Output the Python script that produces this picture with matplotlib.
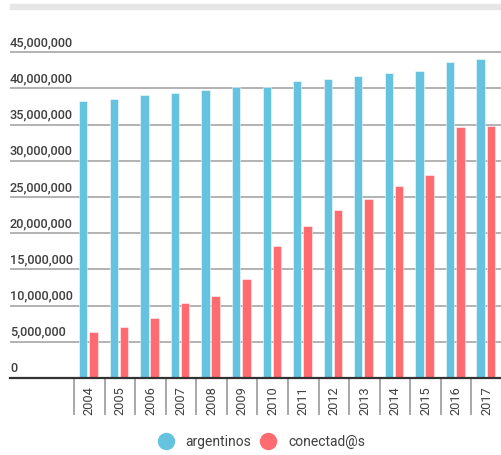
import matplotlib.pyplot as plt
import matplotlib.transforms as mtransforms
from matplotlib.lines import Line2D
from matplotlib.patches import Rectangle
import numpy as np

plt.rcParams['font.family'] = ['Roboto', 'DejaVu Sans']

years = ['2004', '2005', '2006', '2007', '2008', '2009', '2010',
         '2011', '2012', '2013', '2014', '2015', '2016', '2017']
argentinos = [38.3, 38.6, 39.05, 39.4, 39.8, 40.15, 40.15,
              40.98, 41.3, 41.7, 42.1, 42.45, 43.6, 44.1]
conectados = [6.35, 7.0, 8.33, 10.36, 11.3, 13.7, 18.2,
              20.95, 23.16, 24.7, 26.5, 28.1, 34.7, 34.85]
y_ticks = [0, 5, 10, 15, 20, 25, 30, 35, 40, 45]

blue = '#66c3e0'
red = '#ff6b6f'
text_color = '#404040'

fig = plt.figure(figsize=(5.02, 4.55), dpi=100)
ax = fig.add_axes([10 / 502, 0.1692, 492 / 502, 0.7240])

x = np.arange(len(years))
millions = 1e6
ax.bar(x - 0.20, np.array(argentinos) * millions, width=0.27, color=blue,
       edgecolor=(1, 1, 1, 0.5), linewidth=0.7, zorder=3)
ax.bar(x + 0.135, np.array(conectados) * millions, width=0.28, color=red,
       edgecolor=(1, 1, 1, 0.5), linewidth=0.7, zorder=3)

# slot edges sit at 75px + 31px per year
ax.set_xlim(-0.5 - 65 / 31, -0.5 + 427 / 31)
ax.set_ylim(0, 45.5 * millions)

ax.set_yticks([v * millions for v in y_ticks])
ax.yaxis.grid(True, color='#adadad', linewidth=1.3, zorder=0)
ax.tick_params(axis='y', length=0, labelleft=False)

# y labels sit just above their gridlines
trans = mtransforms.offset_copy(
    mtransforms.blended_transform_factory(ax.transAxes, ax.transData),
    fig=fig, x=0, y=3, units='dots')
for v in y_ticks:
    ax.text(0, v * millions, f'{v * 1000000:,}', transform=trans,
            ha='left', va='bottom', fontsize=9.2, color=text_color,
            fontweight='medium')

ax.set_xticks(x)
ax.set_xticklabels(years, rotation=90, fontsize=9.2, color=text_color)
ax.tick_params(axis='x', which='major', length=0, pad=6)
ax.set_xticks(np.arange(len(years) + 1) - 0.5, minor=True)
ax.tick_params(axis='x', which='minor', length=26.5, width=1.2, color='#999999')

for side in ['top', 'right', 'left']:
    ax.spines[side].set_visible(False)
ax.spines['bottom'].set_color('#333333')
ax.spines['bottom'].set_linewidth(1.6)
ax.spines['bottom'].set_zorder(4)

# grey strip across the top
fig.patches.append(Rectangle((10 / 502, 1 - 9 / 455), 492 / 502, 5 / 455,
                             transform=fig.transFigure, color='#e6e6e6'))

handles = [
    Line2D([], [], marker='o', linestyle='', markersize=11.5,
           markerfacecolor=blue, markeredgecolor=blue, label='argentinos'),
    Line2D([], [], marker='o', linestyle='', markersize=11.5,
           markerfacecolor=red, markeredgecolor=red, label='conectad@s'),
]
fig.legend(handles=handles, loc='center', bbox_to_anchor=(0.515, 0.029),
           ncol=2, frameon=False, fontsize=10, handletextpad=0.45,
           columnspacing=0.2, labelcolor=text_color)

fig.savefig('out.png', dpi=100)
